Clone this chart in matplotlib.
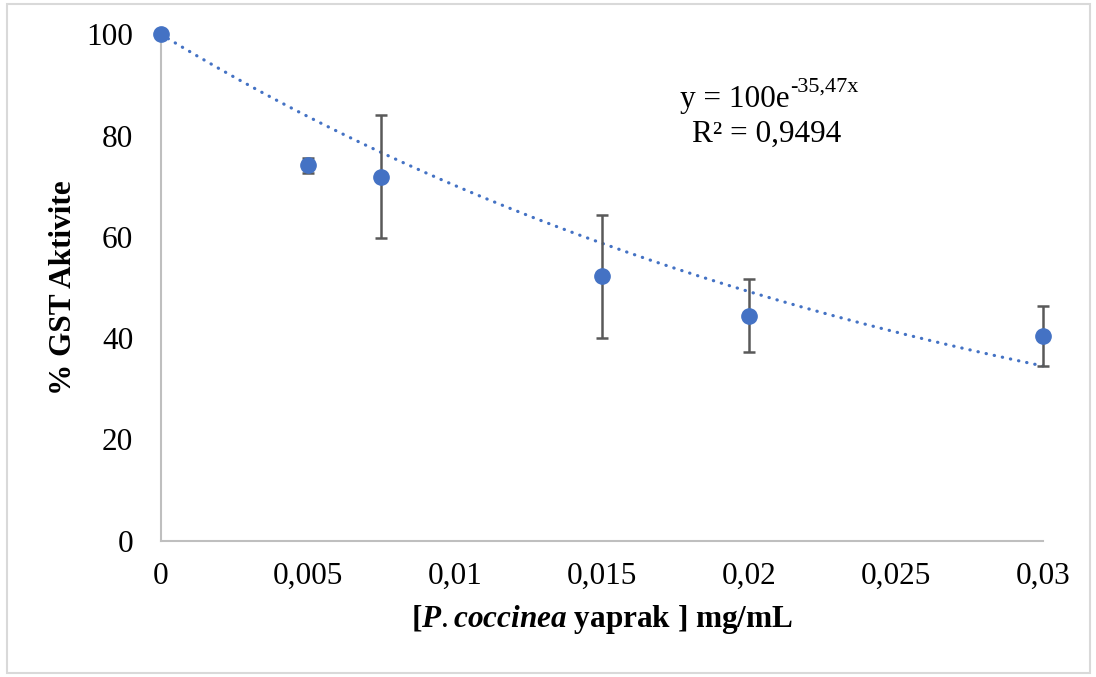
import numpy as np
import matplotlib
matplotlib.use('Agg')
import matplotlib.pyplot as plt
from matplotlib.patches import Rectangle

# data
conc = [0, 0.005, 0.0075, 0.015, 0.02, 0.03]
activity = [100, 74.1, 71.9, 52.2, 44.4, 40.4]
err = [0, 1.5, 12.1, 12.2, 7.2, 5.9]
fit_a = 100
fit_b = -35.47
xticks = [0, 0.005, 0.01, 0.015, 0.02, 0.025, 0.03]
xtick_labels = ['0', '0,005', '0,01', '0,015', '0,02', '0,025', '0,03']
yticks = [0, 20, 40, 60, 80, 100]

plt.rcParams.update({
    'font.family': ['Liberation Serif', 'DejaVu Serif'],
    'mathtext.fontset': 'custom',
    'mathtext.rm': 'Liberation Serif',
    'mathtext.it': 'Liberation Serif:italic:bold',
    'mathtext.bf': 'Liberation Serif:bold',
})

blue = '#4472C4'
grey = '#BFBFBF'
fs = 22.5

fig = plt.figure(figsize=(10.96, 6.77), dpi=100)
ax = fig.add_axes([0.1469, 0.2013, 0.8047, 0.748])

# fitted exponential trendline
xs = np.linspace(0, 0.03, 300)
ax.plot(xs, fit_a * np.exp(fit_b * xs), color=blue, lw=2.3,
        linestyle=(0, (0.1, 2.5)), dash_capstyle='round', zorder=2, clip_on=False)

eb = ax.errorbar(conc, activity, yerr=err, fmt='none', ecolor='#595959',
                 elinewidth=1.8, capsize=4, capthick=1.8, zorder=3)
for part in eb.lines[1] + eb.lines[2]:
    part.set_clip_on(False)
ax.plot(conc, activity, 'o', color=blue, markersize=11, zorder=4, clip_on=False)

ax.set_xlim(0, 0.03)
ax.set_ylim(0, 100)
ax.set_xticks(xticks)
ax.set_xticklabels(xtick_labels)
ax.set_yticks(yticks)
ax.tick_params(length=0, labelsize=fs)
ax.tick_params(axis='x', pad=15)
ax.tick_params(axis='y', pad=20)

for s in ['top', 'right']:
    ax.spines[s].set_visible(False)
for s in ['left', 'bottom']:
    ax.spines[s].set_color(grey)
    ax.spines[s].set_linewidth(1.5)

ax.set_xlabel(r'[$\mathit{P.coccinea}$ yaprak ] mg/mL', fontsize=fs,
              fontweight='bold', labelpad=9)
ax.set_ylabel('% GST Aktivite', fontsize=fs, fontweight='bold', labelpad=6)

# trendline equation, exponent drawn as a raised smaller text
eq_x = 0.02137
ax.text(eq_x, 85.6, 'y = 100e', fontsize=fs, ha='right', va='baseline')
ax.annotate('-35,47x', xy=(eq_x, 85.6), xytext=(0.5, 11), textcoords='offset points',
            fontsize=16, ha='left', va='baseline')
ax.text(0.02061, 78.8, 'R² = 0,9494', fontsize=fs, ha='center', va='baseline')

# light chart-area border
fig.patches.append(Rectangle((7 / 1096, 4 / 677), 1083 / 1096, 669 / 677,
                             transform=fig.transFigure, fill=False,
                             edgecolor='#D9D9D9', lw=1.5))

fig.savefig('out.png', dpi=100)
